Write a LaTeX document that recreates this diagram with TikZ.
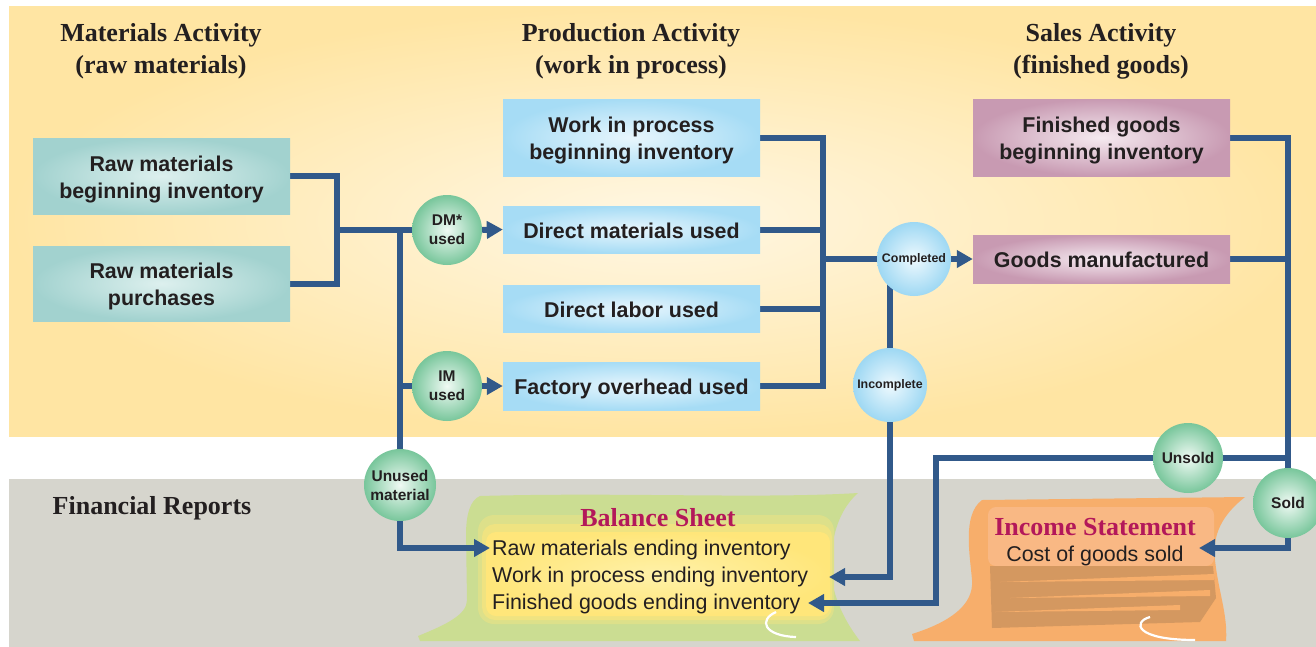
\documentclass[tikz,border=0pt]{standalone}
\usepackage{fontspec}
\setmainfont{Liberation Sans}
\newfontfamily\headserif{Liberation Serif}
\usetikzlibrary{arrows.meta}

\definecolor{ink}{HTML}{231F20}
\definecolor{bandYellow}{HTML}{FFE5A3}
\definecolor{bandLight}{HTML}{FFF7E4}
\definecolor{grayDark}{HTML}{D6D5CD}
\definecolor{grayLight}{HTML}{E7E5DF}
\definecolor{tealEdge}{HTML}{A2D2CF}
\definecolor{tealMid}{HTML}{DDF0EE}
\definecolor{skyEdge}{HTML}{A6DCF5}
\definecolor{skyMid}{HTML}{E8F6FD}
\definecolor{mauveEdge}{HTML}{C89AB2}
\definecolor{mauveMid}{HTML}{F5EAF0}
\definecolor{ballGreen}{HTML}{78C69B}
\definecolor{ballGreenMid}{HTML}{F0FAF4}
\definecolor{ballBlue}{HTML}{9ED8F3}
\definecolor{ballBlueMid}{HTML}{EEF9FE}
\definecolor{pipeBlue}{HTML}{31598A}
\definecolor{sheetTitle}{HTML}{B3185A}
\definecolor{bsGreen}{HTML}{CBDD92}
\definecolor{bsYellow}{HTML}{FFE67A}
\definecolor{bsYellowLight}{HTML}{FFF1A8}
\definecolor{isOrange}{HTML}{F7AE6B}
\definecolor{isLight}{HTML}{F9B884}
\definecolor{isDark}{HTML}{D49860}

\pgfdeclarelayer{back}
\pgfdeclarelayer{pipes}
\pgfsetlayers{back,pipes,main}

% strut opening the first line of an account box
\newcommand{\boxstrut}{\rule[-5pt]{0pt}{27pt}}

\tikzset{
  heading/.style={font=\headserif\bfseries\fontsize{26}{32}\selectfont, align=center, text=ink, inner sep=0pt},
  boxbase/.style={minimum width=257pt, inner sep=0pt, align=center, text=ink,
    font=\bfseries\fontsize{21.4}{27}\selectfont, shade},
  tealbox/.style={boxbase, inner color=tealMid, outer color=tealEdge},
  skybox/.style={boxbase, inner color=skyMid, outer color=skyEdge},
  mauvebox/.style={boxbase, inner color=mauveMid, outer color=mauveEdge},
  greenball/.style={circle, minimum size=70pt, inner sep=0pt, align=center, text=ink,
    shade, inner color=ballGreenMid, outer color=ballGreen,
    font=\bfseries\fontsize{15.5}{19}\selectfont},
  blueball/.style={circle, minimum size=74pt, inner sep=0pt, align=center, text=ink,
    shade, inner color=ballBlueMid, outer color=ballBlue,
    font=\bfseries\fontsize{12.4}{15}\selectfont},
  pipe/.style={draw=pipeBlue, line width=6pt, line join=miter},
  tip/.style={-{Triangle[length=16pt,width=17pt]}},
  sheettitle/.style={font=\headserif\bfseries\fontsize{26}{30}\selectfont, text=sheetTitle, inner sep=0pt},
  sheettext/.style={font=\fontsize{21.4}{27}\selectfont, text=ink, inner sep=0pt},
  sheetline/.style={sheettext, anchor=west},
}

\begin{document}
\begin{tikzpicture}[x=1pt,y=-1pt]
\useasboundingbox (0,0) rectangle (1316,646);

% bands and report sheets
\begin{pgfonlayer}{back}
  \fill[white] (0,0) rectangle (1316,646);
  \shade[inner color=bandLight, outer color=bandYellow] (9,6) rectangle (1316,436);
  \shade[left color=grayDark, middle color=grayLight, right color=grayDark] (9,479) rectangle (1316,646);

  % balance sheet scroll
  \fill[bsGreen] (480,496) .. controls (620,492) and (760,499) .. (858,493)
    .. controls (836,512) and (826,550) .. (834,590)
    .. controls (840,612) and (850,628) .. (860,641)
    -- (420,641) -- (418,636)
    .. controls (445,625) and (467,615) .. (467,600)
    -- (466,535) .. controls (466,515) and (470,500) .. (480,496) -- cycle;
  \fill[bsYellow!35!bsGreen, rounded corners=16pt] (478,515) rectangle (834,624);
  \fill[bsYellow!70!bsGreen, rounded corners=13pt] (482,524) rectangle (832,620);
  \shade[inner color=bsYellowLight, outer color=bsYellow, rounded corners=10pt]
    (486,532) rectangle (830,616);
  \draw[white, line width=2.2pt] (776,612) .. controls (758,620) and (764,636) .. (796,637);

  % income statement scroll
  \fill[isOrange] (982,500) -- (1245,497)
    .. controls (1222,515) and (1212,535) .. (1215,560)
    .. controls (1218,590) and (1228,615) .. (1226,641)
    -- (914,641) -- (912,634)
    .. controls (950,622) and (974,605) .. (972,580)
    .. controls (970,555) and (962,515) .. (982,500) -- cycle;
  \fill[isLight, rounded corners=8pt] (988,507) rectangle (1214,566);
  \fill[isDark] (990,566) -- (1213,566) -- (1216,598) -- (1200,622) -- (992,628) -- cycle;
  \fill[isOrange] (1000,582) -- (1214,574) -- (1214,580) -- cycle;
  \fill[isOrange] (1010,598) -- (1210,590) -- (1210,596) -- cycle;
  \fill[isOrange] (995,612) -- (1180,605) -- (1180,610) -- cycle;
  \draw[white, line width=2.2pt] (1150,617) .. controls (1132,622) and (1135,640) .. (1195,640);
\end{pgfonlayer}

% headings
\node[heading] (hmat) at (161,51) {Materials Activity\\(raw materials)};
\node[heading] (hprod) at (631,51) {Production Activity\\(work in process)};
\node[heading] (hsale) at (1101,51) {Sales Activity\\(finished goods)};
\node[heading] (hfin) at (152,508) {Financial Reports};

% accounts
\node[tealbox, minimum height=76pt] (rmb) at (161.5,176) {\boxstrut Raw materials\\beginning inventory};
\node[tealbox, minimum height=75pt] (rmp) at (161.5,283.5) {\boxstrut Raw materials\\purchases};
\node[skybox, minimum height=77pt] (wip) at (631.5,137.5) {\boxstrut Work in process\\beginning inventory};
\node[skybox, minimum height=47pt] (dmu) at (631.5,229.5) {\boxstrut Direct materials used};
\node[skybox, minimum height=47pt] (dlu) at (631.5,308.5) {\boxstrut Direct labor used};
\node[skybox, minimum height=48pt] (fou) at (631.5,386) {\boxstrut Factory overhead used};
\node[mauvebox, minimum height=77pt] (fgb) at (1101.5,137.5) {\boxstrut Finished goods\\beginning inventory};
\node[mauvebox, minimum height=48pt] (gm) at (1101.5,259) {\boxstrut Goods manufactured};

% flow points
\node[greenball] (dm) at (447,230) {DM*\\used};
\node[greenball] (im) at (447,386) {IM\\used};
\node[greenball, minimum size=72pt] (um) at (400,485) {Unused\\material};
\node[blueball] (cp) at (914,259) {Completed};
\node[blueball] (ic) at (890,385) {Incomplete};
\node[greenball] (us) at (1188,458) {Unsold};
\node[greenball] (sd) at (1288,503) {Sold};

% report contents
\node[sheettitle] (bst) at (658,518) {Balance Sheet};
\node[sheetline] (bsr) at (492,550) {Raw materials ending inventory};
\node[sheetline] (bsw) at (492,577) {Work in process ending inventory};
\node[sheetline] (bsf) at (492,604) {Finished goods ending inventory};
\node[sheettitle] (ist) at (1095,527) {Income Statement};
\node[sheettext] (isc) at (1095,556) {Cost of goods sold};

% flows
\begin{pgfonlayer}{pipes}
  \coordinate (jL) at (337,230);
  \coordinate (jD) at (400,230);
  \coordinate (jP) at (823,259);
  \coordinate (jS) at (1288,548);
  \coordinate (jU) at (936,603);
  \coordinate (wipIn) at (829,577);
  \coordinate (fgIn) at (808,603);
  \coordinate (cogsIn) at (1199,548);

  \draw[pipe] (rmb.east) -| (jL) |- (rmp.east);
  \draw[pipe] (jL) -- (dm.center);
  \draw[pipe] (jD) -- (um.center);
  \draw[pipe] (jD |- im.center) -- (im.center);
  \draw[pipe, tip, shorten >=2pt] (um.center) |- (bsr.west |- 0,548);
  \draw[pipe, tip] (dm.east) -- (dmu.west);
  \draw[pipe, tip] (im.east) -- (fou.west);

  \draw[pipe] (wip.east) -| (jP) |- (fou.east);
  \draw[pipe] (dmu.east) -- (dmu.east -| jP);
  \draw[pipe] (dlu.east) -- (dlu.east -| jP);
  \draw[pipe] (jP) -- (cp.center);
  \draw[pipe, tip] (cp.east) -- (gm.west);
  \draw[pipe] (cp.center -| ic.center) -- (ic.center);
  \draw[pipe, tip] (ic.center) |- (wipIn);

  \draw[pipe, tip] (fgb.east) -| (jS) -- (cogsIn);
  \draw[pipe] (gm.east) -- (gm.east -| jS);
  \draw[pipe] (jS |- us.center) -- (us.center);
  \draw[pipe, tip] (us.center) -| (jU) -- (fgIn);
\end{pgfonlayer}
\end{tikzpicture}
\end{document}
